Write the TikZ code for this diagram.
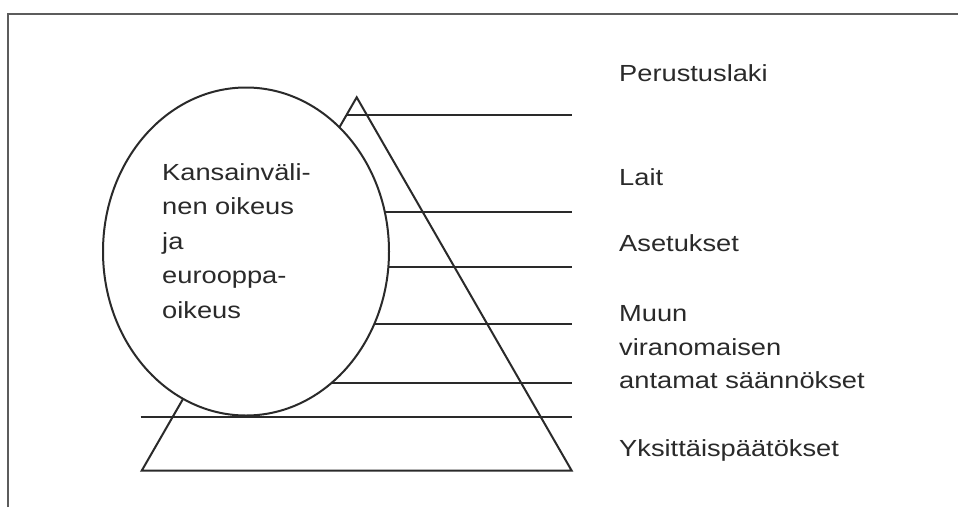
\documentclass[tikz,border=0pt]{standalone}
\usepackage{fontspec}
\setmainfont{Liberation Sans}[FakeStretch=1.17]
\usetikzlibrary{shapes.geometric}
\definecolor{ink}{HTML}{2A2A2A}
\definecolor{frame}{HTML}{5C5C5C}
\begin{document}
\begin{tikzpicture}[x=1pt,y=-1pt,
  lvl/.style={draw=ink,line width=2pt},
  lbl/.style={anchor=base west,inner sep=0pt,text=ink,align=left,
    font=\fontsize{23.3}{33.3}\selectfont},
  circtext/.style={anchor=base west,inner sep=0pt,text=ink,align=left,
    font=\fontsize{23.3}{34.5}\selectfont}]
\useasboundingbox (0,0) rectangle (958,507);
\fill[white] (0,0) rectangle (958,507);
% frame
\draw[frame,line width=2.5pt] (8,507) -- (8,14) -- (958,14);
% pyramid
\coordinate (apex) at (356.7,97.3);
\coordinate (bl) at (141.7,470.7);
\coordinate (br) at (571.7,470.7);
\draw[lvl,line join=miter] (apex) -- (bl) -- (br) -- cycle;
% level lines
\coordinate (l1a) at (346.5,115);   \coordinate (l1b) at (571.7,115);
\coordinate (l2a) at (300,211.7);   \coordinate (l2b) at (571.7,211.7);
\coordinate (l3a) at (300,266.7);   \coordinate (l3b) at (571.7,266.7);
\coordinate (l4a) at (300,324);     \coordinate (l4b) at (571.7,324);
\coordinate (l5a) at (300,383.3);   \coordinate (l5b) at (571.7,383.3);
\coordinate (l6a) at (140.7,416.7); \coordinate (l6b) at (571.7,416.7);
\draw[lvl] (l1a) -- (l1b);
\draw[lvl] (l2a) -- (l2b);
\draw[lvl] (l3a) -- (l3b);
\draw[lvl] (l4a) -- (l4b);
\draw[lvl] (l5a) -- (l5b);
% international law ellipse
\node[ellipse,draw=ink,line width=2pt,fill=white,inner sep=0pt,
  minimum width=286pt,minimum height=328pt] (intl) at (246,251.5) {};
\draw[lvl] (l6a) -- (l6b);
\node[circtext] (intltext) at (162,318)
  {Kansainväli-\\nen oikeus\\ja\\eurooppa-\\oikeus};
% labels
\node[lbl] (perustuslaki) at (619,81.7) {Perustuslaki};
\node[lbl] (lait) at (619,185) {Lait};
\node[lbl] (asetukset) at (619,251.7) {Asetukset};
\node[lbl] (muun) at (619,388.3) {Muun\\viranomaisen\\antamat säännökset};
\node[lbl] (yksitt) at (619,456) {Yksittäispäätökset};
\end{tikzpicture}
\end{document}
